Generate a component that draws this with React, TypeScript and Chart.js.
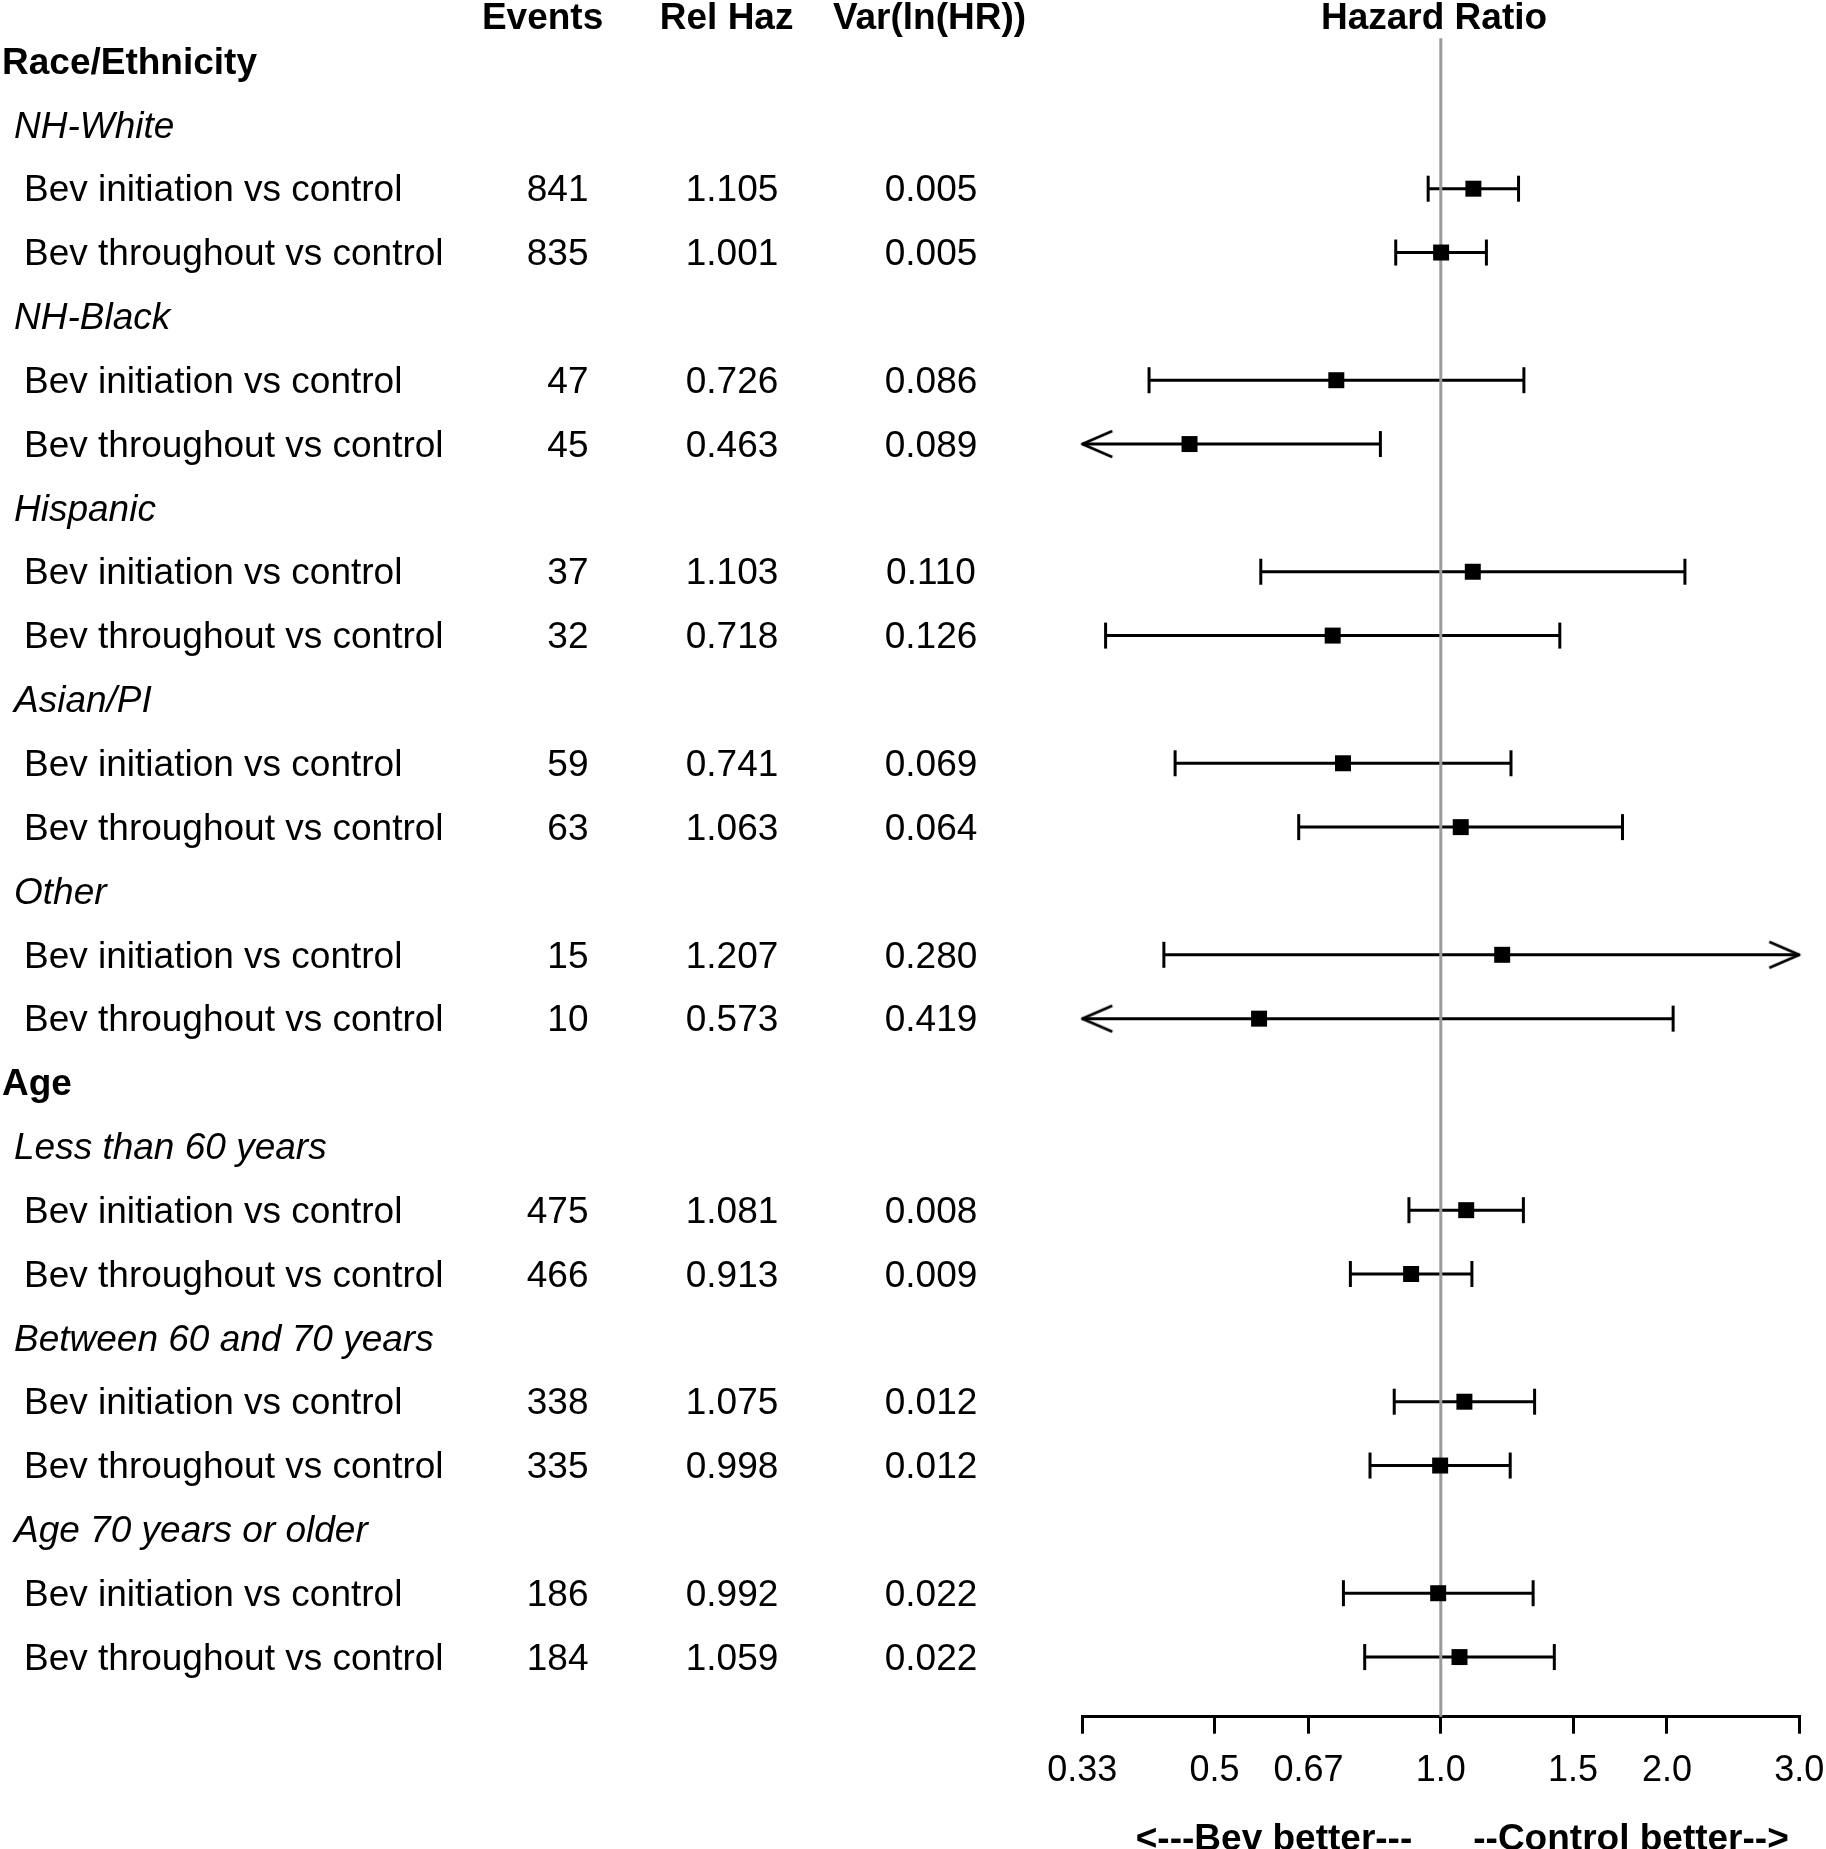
import React, { useEffect, useRef } from "react";
import { Chart, registerables } from "chart.js";

Chart.register(...registerables);

// ---------------- data ----------------
const groupNames = ["Race/Ethnicity", "Age"];
const subgroupsPerGroup = [5, 3];
const subgroupNames = [
  "NH-White",
  "NH-Black",
  "Hispanic",
  "Asian/PI",
  "Other",
  "Less than 60 years",
  "Between 60 and 70 years",
  "Age 70 years or older",
];
const comparisonNames = ["Bev initiation vs control", "Bev throughout vs control"];
const events = [841, 835, 47, 45, 37, 32, 59, 63, 15, 10, 475, 466, 338, 335, 186, 184];
const relHaz = [
  "1.105", "1.001", "0.726", "0.463", "1.103", "0.718", "0.741", "1.063",
  "1.207", "0.573", "1.081", "0.913", "1.075", "0.998", "0.992", "1.059",
];
const varLnHR = [
  "0.005", "0.005", "0.086", "0.089", "0.110", "0.126", "0.069", "0.064",
  "0.280", "0.419", "0.008", "0.009", "0.012", "0.012", "0.022", "0.022",
];
const ciLower = [0.962, 0.871, 0.409, 0.258, 0.576, 0.358, 0.443, 0.647, 0.428, 0.161, 0.907, 0.758, 0.867, 0.805, 0.742, 0.792];
const ciUpper = [1.269, 1.15, 1.29, 0.831, 2.113, 1.44, 1.24, 1.745, 3.405, 2.038, 1.288, 1.1, 1.333, 1.237, 1.327, 1.416];
const columnHeaders = ["Events", "Rel Haz", "Var(ln(HR))"];
const plotHeader = "Hazard Ratio";
const tickValues = [1 / 3, 0.5, 2 / 3, 1, 1.5, 2, 3];
const tickLabels = ["0.33", "0.5", "0.67", "1.0", "1.5", "2.0", "3.0"];
const directionLabels = ["<---Bev better---", "--Control better-->"];
const referenceValue = 1;
const axisMin = 1 / 3;
const axisMax = 3;

// ---------------- layout (pixels / styles) ----------------
const W = 1826;
const H = 1849;
const PLOT_LEFT = 1082.3;
const PLOT_RIGHT = 1799.3;
const PLOT_TOP = 22.7;
const AXIS_Y = 1716.7;
const Y_MIN = -0.6;
const Y_MAX = 25.934;
const HEADER_ROW = -0.71;
const REF_TOP_ROW = -0.356;
const FONT = "'Liberation Sans', Arial, Helvetica, sans-serif";
const TEXT_SIZE = 37;
const TEXT_DY = 2.5;
const HEADER_DY = 3.5;
const GROUP_X = 2;
const SUB_X = 14;
const ITEM_X = 24;
const EVENTS_RIGHT = 588.5;
const RELHAZ_CENTER = 732;
const VAR_CENTER = 931;
const HEADER_CENTERS = [542.6, 726.6, 929.5];
const HAZARD_CENTER = 1434;
const DIR_CENTERS = [1274, 1631];
const DIR_BASELINE = 1849.5;

type Row = { kind: "group" | "sub" | "item"; text: string; item?: number };

function buildRows(): Row[] {
  const rows: Row[] = [];
  let s = 0;
  let it = 0;
  groupNames.forEach((g, gi) => {
    rows.push({ kind: "group", text: g });
    for (let k = 0; k < subgroupsPerGroup[gi]; k++) {
      rows.push({ kind: "sub", text: subgroupNames[s++] });
      comparisonNames.forEach((c) => rows.push({ kind: "item", text: c, item: it++ }));
    }
  });
  return rows;
}

function makeChevron(dir: number): HTMLCanvasElement {
  const c = document.createElement("canvas");
  c.width = 72;
  c.height = 40;
  const g = c.getContext("2d")!;
  g.strokeStyle = "#000";
  g.lineWidth = 2.8;
  g.lineJoin = "round";
  g.lineCap = "butt";
  const cx = 36;
  const cy = 20;
  g.beginPath();
  g.moveTo(cx + dir * 30, cy - 13);
  g.lineTo(cx, cy);
  g.lineTo(cx + dir * 30, cy + 13);
  g.stroke();
  return c;
}

export default function App() {
  const canvasRef = useRef<HTMLCanvasElement | null>(null);

  useEffect(() => {
    const canvas = canvasRef.current;
    if (!canvas) return;
    const rows = buildRows();
    const rowOfItem: number[] = [];
    rows.forEach((r, i) => {
      if (r.kind === "item") rowOfItem[r.item as number] = i;
    });
    const hr = relHaz.map((v) => parseFloat(v));
    const clamp = (v: number) => Math.min(axisMax, Math.max(axisMin, v));

    const squares = {
      label: "HR",
      data: hr.map((v, k) => ({ x: v, y: rowOfItem[k] })),
      pointStyle: "rect",
      pointRadius: 11.3,
      pointBackgroundColor: "#000",
      pointBorderWidth: 0,
      showLine: false,
      clip: false,
    };
    const refLine = {
      label: "ref",
      data: [
        { x: referenceValue, y: REF_TOP_ROW },
        { x: referenceValue, y: Y_MAX },
      ],
      showLine: true,
      borderColor: "#9b9b9b",
      borderWidth: 3,
      pointRadius: 0,
      clip: false,
    };
    const capData: { x: number; y: number }[] = [];
    const leftArrows: { x: number; y: number }[] = [];
    const rightArrows: { x: number; y: number }[] = [];
    hr.forEach((_, k) => {
      const yy = rowOfItem[k];
      if (ciLower[k] >= axisMin) capData.push({ x: ciLower[k], y: yy });
      else leftArrows.push({ x: axisMin, y: yy });
      if (ciUpper[k] <= axisMax) capData.push({ x: ciUpper[k], y: yy });
      else rightArrows.push({ x: axisMax, y: yy });
    });
    const caps = {
      label: "caps",
      data: capData,
      pointStyle: "line",
      pointRotation: 90,
      pointRadius: 13,
      pointBorderWidth: 3,
      pointBorderColor: "#000",
      showLine: false,
      clip: false,
    };
    const leftArrowDs = {
      label: "la",
      data: leftArrows,
      pointStyle: makeChevron(1),
      pointRadius: 10,
      showLine: false,
      clip: false,
    };
    const rightArrowDs = {
      label: "ra",
      data: rightArrows,
      pointStyle: makeChevron(-1),
      pointRadius: 10,
      showLine: false,
      clip: false,
    };
    const ciLines = hr.map((_, k) => ({
      label: "ci" + k,
      data: [
        { x: clamp(ciLower[k]), y: rowOfItem[k] },
        { x: clamp(ciUpper[k]), y: rowOfItem[k] },
      ],
      showLine: true,
      borderColor: "#000",
      borderWidth: 3,
      pointRadius: 0,
      clip: false,
    }));

    const tablePlugin = {
      id: "forestTable",
      afterDraw(chart: any) {
        const ctx = chart.ctx as CanvasRenderingContext2D;
        const ys = chart.scales.y;
        ctx.save();
        ctx.fillStyle = "#000";
        ctx.textBaseline = "middle";
        // headers
        ctx.font = `bold ${TEXT_SIZE}px ${FONT}`;
        ctx.textAlign = "center";
        const hy = ys.getPixelForValue(HEADER_ROW) + HEADER_DY;
        columnHeaders.forEach((h, i) => ctx.fillText(h, HEADER_CENTERS[i], hy));
        ctx.fillText(plotHeader, HAZARD_CENTER, hy);
        // rows
        rows.forEach((r, i) => {
          const py = ys.getPixelForValue(i) + TEXT_DY;
          if (r.kind === "group") {
            ctx.font = `bold ${TEXT_SIZE}px ${FONT}`;
            ctx.textAlign = "left";
            ctx.fillText(r.text, GROUP_X, py);
          } else if (r.kind === "sub") {
            ctx.font = `italic ${TEXT_SIZE}px ${FONT}`;
            ctx.textAlign = "left";
            ctx.fillText(r.text, SUB_X, py);
          } else {
            const k = r.item as number;
            ctx.font = `${TEXT_SIZE}px ${FONT}`;
            ctx.textAlign = "left";
            ctx.fillText(r.text, ITEM_X, py);
            ctx.textAlign = "right";
            ctx.fillText(String(events[k]), EVENTS_RIGHT, py);
            ctx.textAlign = "center";
            ctx.fillText(relHaz[k], RELHAZ_CENTER, py);
            ctx.fillText(varLnHR[k], VAR_CENTER, py);
          }
        });
        // direction labels
        ctx.font = `bold 37px ${FONT}`;
        ctx.textAlign = "center";
        ctx.textBaseline = "alphabetic";
        directionLabels.forEach((t, i) => ctx.fillText(t, DIR_CENTERS[i], DIR_BASELINE));
        ctx.restore();
      },
    };

    const chart = new Chart(canvas, {
      type: "scatter",
      data: {
        datasets: [squares, refLine, caps, leftArrowDs, rightArrowDs, ...ciLines] as any,
      },
      options: {
        animation: false,
        responsive: false,
        devicePixelRatio: 1,
        events: [],
        layout: {
          padding: { left: PLOT_LEFT, right: W - PLOT_RIGHT, top: PLOT_TOP, bottom: 0 },
        },
        plugins: { legend: { display: false }, tooltip: { enabled: false } },
        scales: {
          x: {
            type: "logarithmic",
            position: "bottom",
            bounds: "data",
            min: axisMin,
            max: axisMax,
            afterBuildTicks: (scale: any) => {
              scale.ticks = tickValues.map((v) => ({ value: v }));
              scale.min = axisMin;
              scale.max = axisMax;
            },
            afterFit: (scale: any) => {
              scale.height = H - AXIS_Y;
              scale.paddingLeft = 0;
              scale.paddingRight = 0;
            },
            grid: {
              drawOnChartArea: false,
              drawTicks: true,
              tickLength: 17,
              tickWidth: 3,
              tickColor: "#000",
              color: "#000",
              lineWidth: 3,
            },
            border: { display: true, color: "#000", width: 3 },
            ticks: {
              autoSkip: false,
              maxRotation: 0,
              minRotation: 0,
              padding: 15.5,
              color: "#000",
              font: { family: FONT, size: 36 },
              callback: (_v: any, i: number) => tickLabels[i],
            },
          },
          y: {
            type: "linear",
            display: false,
            reverse: true,
            min: Y_MIN,
            max: Y_MAX,
          },
        },
      } as any,
      plugins: [tablePlugin],
    });

    return () => chart.destroy();
  }, []);

  return (
    <div style={{ position: "fixed", left: 0, top: 0, width: W, height: H, background: "#fff" }}>
      <canvas ref={canvasRef} width={W} height={H} style={{ display: "block", width: W, height: H }} />
    </div>
  );
}
